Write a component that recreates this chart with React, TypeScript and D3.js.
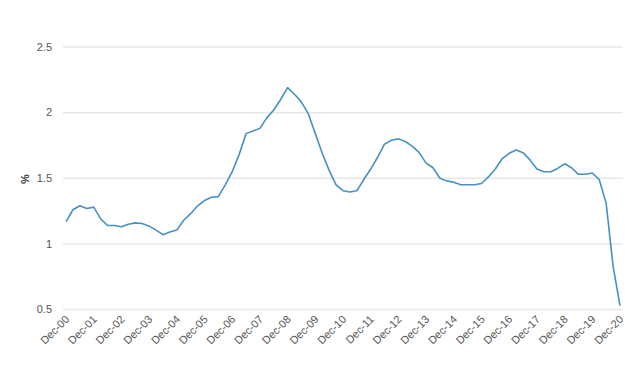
import React from "react";
import * as d3 from "d3";

const years: string[] = ["00","01","02","03","04","05","06","07","08","09","10","11","12","13","14","15","16","17","18","19","20"];
const tickLabels: string[] = years.map((y) => `Dec-${y}`);
const yTicks: number[] = [0.5, 1, 1.5, 2, 2.5];

// quarterly values, Dec-00 .. Dec-20
const values: number[] = [
  1.17, 1.26, 1.29, 1.27, 1.28, 1.19, 1.14, 1.14, 1.13, 1.15,
  1.16, 1.155, 1.135, 1.105, 1.07, 1.09, 1.105, 1.18, 1.23, 1.29,
  1.33, 1.355, 1.36, 1.45, 1.55, 1.68, 1.84, 1.86, 1.88, 1.96,
  2.02, 2.10, 2.19, 2.14, 2.08, 1.99, 1.84, 1.69, 1.56, 1.45,
  1.405, 1.395, 1.405, 1.49, 1.57, 1.66, 1.76, 1.79, 1.80, 1.78,
  1.745, 1.695, 1.615, 1.58, 1.50, 1.48, 1.47, 1.45, 1.45, 1.45,
  1.46, 1.51, 1.57, 1.65, 1.69, 1.715, 1.695, 1.64, 1.57, 1.55,
  1.55, 1.575, 1.61, 1.58, 1.53, 1.53, 1.54, 1.49, 1.31, 0.83,
  0.53,
];

export default function App() {
  const W = 640, H = 385;
  const x = d3.scaleLinear().domain([0, 80]).range([66, 620]);
  const y = d3.scaleLinear().domain([0.5, 2.5]).range([309.5, 47]);
  const line = d3.line<number>().x((_, i) => x(i)).y((d) => y(d));
  const font = "'Liberation Sans', Arial, sans-serif";
  return (
    <svg width={W} height={H} style={{ position: "absolute", left: 0, top: 0 }}>
      <rect width={W} height={H} fill="#fff" />
      {yTicks.map((t) => (
        <g key={t}>
          <line x1={63} x2={623} y1={y(t)} y2={y(t)} stroke="#e8e8e8" strokeWidth={1.5} />
          <text x={52} y={y(t)} dy="0.35em" textAnchor="end" fontSize={11} fill="#555" fontFamily={font}>
            {String(t)}
          </text>
        </g>
      ))}
      <text transform={`translate(29,179) rotate(-90)`} textAnchor="middle" fontSize={11} fontWeight="bold" fill="#333" fontFamily={font}>%</text>
      {tickLabels.map((lab, k) => (
        <text key={lab} transform={`translate(${x(k * 4) + 4},${320}) rotate(-45)`} textAnchor="end" fontSize={11} fill="#555" fontFamily={font}>
          {lab}
        </text>
      ))}
      <path d={line(values) || ""} fill="none" stroke="#4791c2" strokeWidth={1.6} strokeLinejoin="round" />
    </svg>
  );
}
